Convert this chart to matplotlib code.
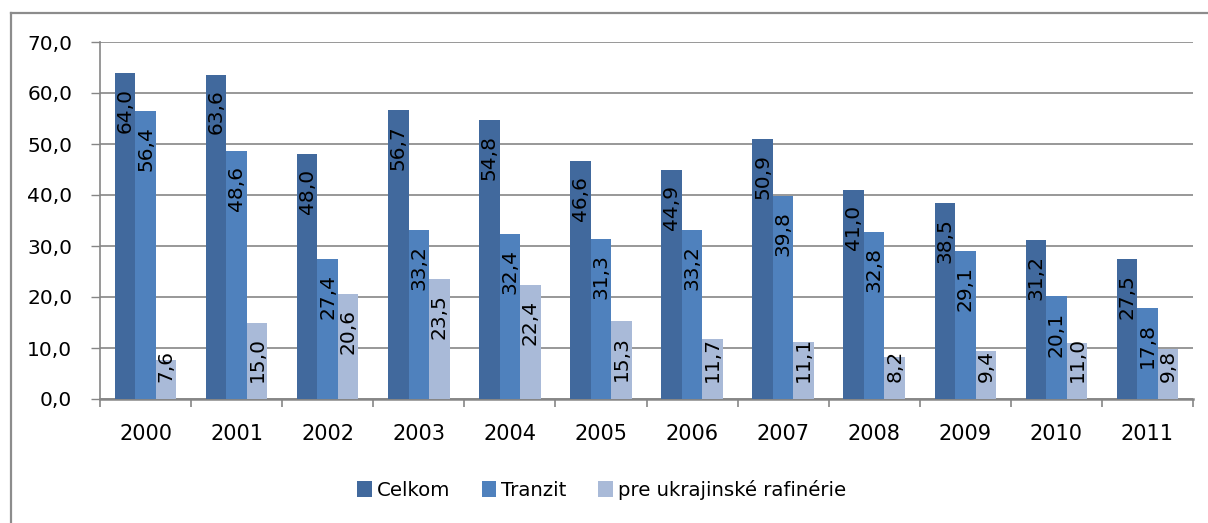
import matplotlib
matplotlib.use("Agg")
import matplotlib.pyplot as plt
from matplotlib.lines import Line2D
import numpy as np

years = ["2000", "2001", "2002", "2003", "2004", "2005", "2006", "2007", "2008", "2009", "2010", "2011"]
celkom = [64.0, 63.6, 48.0, 56.7, 54.8, 46.6, 44.9, 50.9, 41.0, 38.5, 31.2, 27.5]
tranzit = [56.4, 48.6, 27.4, 33.2, 32.4, 31.3, 33.2, 39.8, 32.8, 29.1, 20.1, 17.8]
rafinerie = [7.6, 15.0, 20.6, 23.5, 22.4, 15.3, 11.7, 11.1, 8.2, 9.4, 11.0, 9.8]
series_names = ["Celkom", "Tranzit", "pre ukrajinské rafinérie"]
colors = ["#41699D", "#4F81BD", "#A9BAD8"]

plt.rcParams['font.family'] = ['DejaVu Sans']

W, H = 1208, 523
fig = plt.figure(figsize=(W / 100, H / 100), dpi=100)
ax = fig.add_axes([100 / W, 1 - 399 / H, (1193 - 100) / W, (399 - 42) / H])

x = np.arange(len(years))
bw = 0.225
ppu = (399 - 42) / 70.0  # pixels per data unit
fs_lab = 14.5
for i, (vals, c, name) in enumerate(zip([celkom, tranzit, rafinerie], colors, series_names)):
    xs = x + (i - 1) * bw
    ax.bar(xs, vals, width=bw, color=c, label=name, zorder=3)
    for xi, v in zip(xs, vals):
        txt = f"{v:.1f}".replace(".", ",")
        tlen_px = (0.636 * (len(txt) - 1) + 0.318) * fs_lab / 72 * 100
        bar_px = v * ppu
        if bar_px - 15 - tlen_px < 17:
            ax.annotate(txt, (xi, 0), xytext=(0, 17 * 0.72), textcoords="offset points",
                        rotation=90, ha="center", va="bottom", fontsize=fs_lab, zorder=4)
        else:
            ax.annotate(txt, (xi, v), xytext=(0, -15 * 0.72), textcoords="offset points",
                        rotation=90, ha="center", va="top", fontsize=fs_lab, zorder=4)

ax.set_xlim(-0.5, len(years) - 0.5)
ax.set_ylim(0, 70)
ax.set_yticks(np.arange(0, 71, 10))
ax.set_yticklabels([f"{v:.1f}".replace(".", ",") for v in np.arange(0, 71, 10)], fontsize=14.5)
ax.set_xticks(x)
ax.set_xticklabels(years, fontsize=15)
ax.set_xticks(np.arange(-0.5, len(years), 1), minor=True)
ax.tick_params(axis="x", which="major", length=0, pad=18)
ax.tick_params(axis="x", which="minor", length=6, width=1.2, color="#868686", direction="out")
ax.tick_params(axis="y", which="major", length=6.5, width=1, color="#868686", pad=13.5)

ax.grid(axis="y", color="#868686", linewidth=1.2, zorder=0)
ax.set_axisbelow(True)
for s in ["top", "right"]:
    ax.spines[s].set_visible(False)
ax.spines["left"].set_color("#868686")
ax.spines["left"].set_linewidth(1.2)
ax.spines["bottom"].set_color("#868686")
ax.spines["bottom"].set_linewidth(1.8)

leg = fig.legend(loc="center", bbox_to_anchor=(601.5 / W, 1 - 490 / H), ncol=3, frameon=False,
                 fontsize=14.2, handlelength=0.75, handleheight=0.85, handletextpad=0.25,
                 columnspacing=1.6)

# outer chart border (top and left visible)
fig.add_artist(Line2D([10.5 / W, 1.0], [1 - 12.5 / H, 1 - 12.5 / H], color="#8C8C8C", linewidth=1.6,
                      transform=fig.transFigure))
fig.add_artist(Line2D([10.5 / W, 10.5 / W], [0, 1 - 12.5 / H], color="#8C8C8C", linewidth=1.6,
                      transform=fig.transFigure))

fig.savefig("out.png", dpi=100)
